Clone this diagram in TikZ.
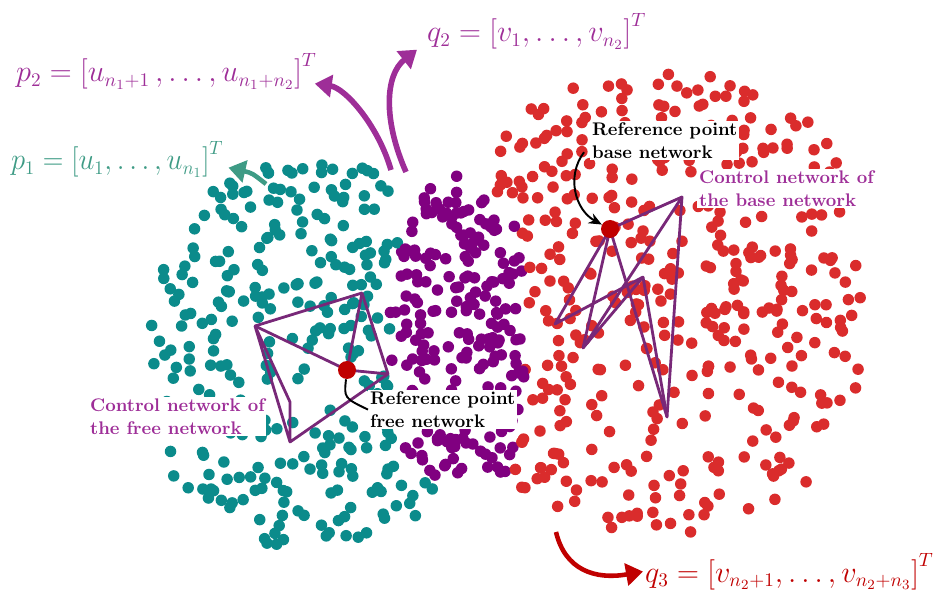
\documentclass[tikz,border=0pt]{standalone}
\usepackage{fontspec}
\usepackage{amsmath}
\usetikzlibrary{arrows.meta,positioning,calc}

\definecolor{nwTeal}{HTML}{0B8B8B}
\definecolor{nwPurple}{HTML}{800080}
\definecolor{nwRed}{HTML}{DA2C2C}
\definecolor{nwRef}{HTML}{C00000}
\definecolor{nwLine}{HTML}{782878}
\definecolor{nwLabel}{HTML}{9E2E98}
\definecolor{nwGreen}{HTML}{3E9B85}

\tikzset{
  tealdot/.style={fill=nwTeal},
  purpdot/.style={fill=nwPurple},
  reddot/.style={fill=nwRed},
  refpt/.style={circle, fill=nwRef, inner sep=0pt, minimum size=0.36cm},
  ctrl/.style={nwLine, line width=1.6pt, line join=round},
  vecarrow/.style={-{Triangle[length=3.4mm, width=4.4mm]}, line width=3.2pt},
  pointer/.style={-{Stealth[length=2.6mm, width=2.2mm]}, line width=1.1pt, black},
  veclabel/.style={font=\fontsize{16}{19}\selectfont, inner sep=1pt, anchor=base west},
  notelabel/.style={font=\fontsize{10.4}{12.6}\selectfont\bfseries, align=left,
    fill=white, inner sep=1pt, anchor=north west}
}

\begin{document}
\begin{tikzpicture}[x=0.02cm, y=-0.02cm]
  \useasboundingbox (0,0) rectangle (939,597);

  % point clouds: free network (teal), common points (purple), base network (red)
  \pgfmathsetseed{2024}
  \foreach \i in {1,...,2050}{
    \pgfmathsetmacro\px{150+725*rnd}
    \pgfmathsetmacro\py{65+490*rnd}
    \pgfmathsetmacro\uu{rnd}
    \pgfmathsetmacro\mx{(\px-460)/75}
    \pgfmathsetmacro\my{(\py-340)/165}
    \pgfmathsetmacro\lx{abs((\px-315)/165)}
    \pgfmathsetmacro\ly{abs((\py-355)/192)}
    \pgfmathsetmacro\rx{abs((\px-655)/212)}
    \pgfmathsetmacro\ry{abs((\py-302)/233)}
    \pgfmathtruncatemacro\inP{(\px>390)&&(\px<525)&&(\py<478)&&(\mx*\mx+\my*\my<1)}
    \pgfmathtruncatemacro\inR{(\uu<0.46)&&((\px>515)||(\py<205))&&(\rx^2.4+\ry^2.4<1)}
    \pgfmathtruncatemacro\inT{(\uu<0.66)&&(\px<402+70*(\py>475))&&(\lx^2.5+\ly^2.5<1)}
    \ifnum\inP=1
      \fill[purpdot] (\px,\py) circle[radius=0.115cm];
    \else\ifnum\inR=1
      \fill[reddot] (\px,\py) circle[radius=0.115cm];
    \else\ifnum\inT=1
      \fill[tealdot] (\px,\py) circle[radius=0.115cm];
    \fi\fi\fi
  }

  % control network of the free network
  \coordinate (fA) at (255,326);
  \coordinate (fB) at (362,293);
  \coordinate (fR) at (347,370);
  \coordinate (fC) at (388,374);
  \coordinate (fD) at (290,402);
  \coordinate (fE) at (290,442);
  \draw[ctrl] (fA) -- (fB) -- (fC) -- (fE) -- (fD) -- (fA) -- (fE);
  \draw[ctrl] (fA) -- (fR) -- (fB);
  \draw[ctrl] (fR) -- (fC);

  % control network of the base network
  \coordinate (bR) at (610,229);
  \coordinate (bP) at (682,197);
  \coordinate (bQ) at (643,277);
  \coordinate (bL) at (555,324);
  \coordinate (bS) at (583,348);
  \coordinate (bT) at (667,417);
  \draw[ctrl] (bR) -- (bP) -- (bT) -- (bR) -- (bL) -- (bQ) -- (bS) -- (bR);
  \draw[ctrl] (bP) -- (bS);
  \draw[ctrl] (bQ) -- (bT);

  \node[refpt] (rfree) at (fR) {};
  \node[refpt] (rbase) at (bR) {};

  % labels
  \node[notelabel] (lbase) at (590,121) {Reference point\\base network};
  \node[notelabel, text=nwLabel] (cbase) at (697,169) {Control network of\\the base network};
  \node[notelabel, text=nwLabel] (cfree) at (88,397) {Control network of\\the free network};
  \node[notelabel] (lfree) at (368,390) {Reference point\\free network};

  \node[veclabel, text=nwLabel] (p2lab) at (14,82) {$p_2=\left[u_{n_1+1}\,,\ldots,u_{n_1+n_2}\right]^T$};
  \node[veclabel, text=nwLabel] (q2lab) at (425,42) {$q_2=\left[v_1,\ldots,v_{n_2}\right]^T$};
  \node[veclabel, text=nwGreen] (p1lab) at (9,170) {\scalebox{0.94}[1]{$p_1=\left[u_1,\ldots,u_{n_1}\right]^T$}};
  \node[veclabel, text=nwRef] (q3lab) at (643,582) {$q_3=\left[v_{n_2+1},\ldots,v_{n_2+n_3}\right]^T$};

  % arrows
  \coordinate (p2tail) at (391,170);
  \coordinate (q2tail) at (406,172);
  \coordinate (p1tail) at (266,184);
  \coordinate (q3tail) at (556,532);
  \draw[vecarrow, nwLabel] (p2tail) .. controls (378,125) and (345,88) .. ($(p2lab.south east)+(-4,-8)$);
  \draw[vecarrow, nwLabel] (q2tail) .. controls (383,120) and (385,75) .. ($(q2lab.south west)+(-8,-2)$);
  \draw[vecarrow, nwGreen, line width=2.6pt] (p1tail) .. controls (252,173) .. ($(p1lab.south east)+(3,-12)$);
  \draw[vecarrow, nwRef, line width=2.6pt] (q3tail) .. controls (565,570) and (595,580) .. (q3lab.west);
  \draw[pointer] ($(lbase.south west)+(-6,-8)$) .. controls (566,176) and (575,210) .. (rbase);
  \draw[line width=1.1pt, black] (rfree) .. controls (344,398) .. (lfree.west);
\end{tikzpicture}
\end{document}
